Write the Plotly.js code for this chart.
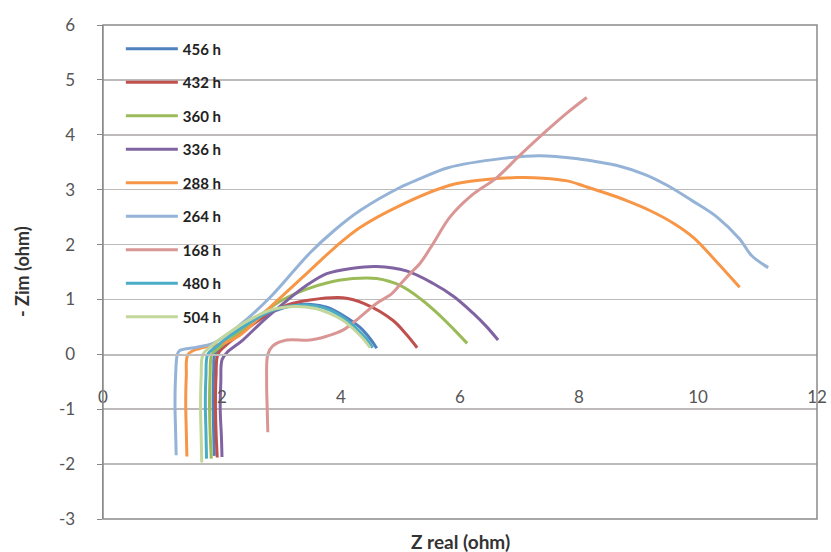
<!DOCTYPE html>
<html>
<head>
<meta charset="utf-8">
<script src="https://cdn.plot.ly/plotly-3.0.1.min.js"></script>
<style>html,body{margin:0;padding:0;background:#fff;}#chart{width:831px;height:552px;}</style>
</head>
<body>
<div id="chart"></div>
<script>
// Series labels (legend order)
const seriesNames = ["456 h", "432 h", "360 h", "336 h", "288 h", "264 h", "168 h", "480 h", "504 h"];

// Z real (ohm) / -Zim (ohm) values per series
const zr456 = [1.87, 1.86, 1.85, 1.86, 1.88, 1.98, 2.2, 2.5, 2.85, 3.2, 3.5, 3.76, 4.05, 4.32, 4.5, 4.6];
const zi456 = [-1.85, -1.4, -0.8, -0.3, 0.0, 0.12, 0.3, 0.55, 0.78, 0.89, 0.91, 0.86, 0.7, 0.49, 0.27, 0.11];

const zr432 = [1.92, 1.9, 1.89, 1.9, 1.93, 2.05, 2.4, 2.8, 3.1, 3.48, 4.03, 4.4, 4.87, 5.1, 5.28];
const zi432 = [-1.88, -1.4, -0.9, -0.4, 0.0, 0.15, 0.45, 0.75, 0.9, 0.99, 1.03, 0.92, 0.62, 0.36, 0.12];

const zr360 = [1.82, 1.8, 1.79, 1.8, 1.83, 1.95, 2.2, 2.6, 3.0, 3.4, 3.76, 4.2, 4.6, 5.0, 5.35, 5.65, 5.9, 6.12];
const zi360 = [-1.9, -1.4, -0.9, -0.4, 0.0, 0.12, 0.33, 0.68, 0.98, 1.18, 1.3, 1.38, 1.38, 1.25, 1.0, 0.72, 0.45, 0.2];

const zr336 = [2.0, 1.99, 1.97, 1.98, 2.0, 2.08, 2.35, 2.7, 3.09, 3.4, 3.76, 4.2, 4.6, 5.1, 5.55, 5.9, 6.22, 6.45, 6.64];
const zi336 = [-1.87, -1.5, -1.0, -0.5, -0.1, 0.03, 0.26, 0.62, 0.98, 1.24, 1.47, 1.57, 1.6, 1.52, 1.29, 1.05, 0.75, 0.5, 0.26];

const zr288 = [1.41, 1.4, 1.39, 1.4, 1.43, 1.63, 1.95, 2.25, 2.81, 3.48, 3.9, 4.32, 4.99, 5.83, 6.4, 6.96, 7.4, 7.8, 8.1, 8.47, 8.8, 9.19, 9.6, 9.92, 10.3, 10.7];
const zi288 = [-1.86, -1.4, -0.9, -0.4, 0.0, 0.11, 0.18, 0.31, 0.86, 1.53, 1.95, 2.31, 2.71, 3.08, 3.18, 3.22, 3.21, 3.16, 3.06, 2.93, 2.8, 2.62, 2.38, 2.13, 1.7, 1.22];

const zr264 = [1.23, 1.22, 1.21, 1.22, 1.25, 1.29, 1.58, 1.85, 2.25, 2.81, 3.48, 3.9, 4.32, 4.99, 5.33, 5.8, 6.72, 7.34, 8.0, 8.35, 8.64, 9.1, 9.48, 9.9, 10.32, 10.7, 10.9, 11.18];
const zi264 = [-1.84, -1.4, -0.9, -0.4, 0.0, 0.07, 0.13, 0.2, 0.49, 1.04, 1.85, 2.27, 2.62, 3.04, 3.2, 3.4, 3.57, 3.62, 3.56, 3.5, 3.44, 3.28, 3.08, 2.8, 2.5, 2.1, 1.8, 1.58];

const zr168 = [2.77, 2.76, 2.75, 2.77, 2.85, 3.09, 3.48, 3.76, 4.03, 4.3, 4.6, 4.85, 5.0, 5.16, 5.33, 5.55, 5.83, 6.2, 6.62, 7.0, 7.46, 7.8, 8.13];
const zi168 = [-1.42, -1.0, -0.5, 0.0, 0.15, 0.26, 0.26, 0.33, 0.44, 0.66, 0.93, 1.1, 1.28, 1.47, 1.66, 2.02, 2.5, 2.9, 3.22, 3.62, 4.08, 4.4, 4.68];

const zr480 = [1.74, 1.73, 1.72, 1.73, 1.76, 1.88, 2.15, 2.5, 2.85, 3.15, 3.4, 3.7, 4.0, 4.25, 4.43, 4.53];
const zi480 = [-1.9, -1.4, -0.9, -0.4, 0.0, 0.12, 0.35, 0.6, 0.8, 0.88, 0.9, 0.85, 0.7, 0.48, 0.28, 0.12];

const zr504 = [1.66, 1.65, 1.64, 1.65, 1.68, 1.8, 2.1, 2.45, 2.8, 3.2, 3.55, 3.8, 4.03, 4.25, 4.4, 4.49];
const zi504 = [-1.97, -1.5, -1.0, -0.4, 0.0, 0.13, 0.38, 0.62, 0.8, 0.87, 0.84, 0.75, 0.62, 0.42, 0.25, 0.12];

const xTicks = [0, 2, 4, 6, 8, 10, 12];
const yTicks = [-3, -2, -1, 0, 1, 2, 3, 4, 5, 6];

const xs = [zr456, zr432, zr360, zr336, zr288, zr264, zr168, zr480, zr504];
const ys = [zi456, zi432, zi360, zi336, zi288, zi264, zi168, zi480, zi504];
const colors = ["#4F81BD", "#C0504D", "#9BBB59", "#8064A2", "#F79646", "#95B3D7", "#D99694", "#4BACC6", "#C3D69B"];

const traces = seriesNames.map((n, i) => ({
  type: "scatter", mode: "lines", name: n, legendgroup: "g" + i,
  x: xs[i], y: ys[i],
  line: {color: colors[i], width: 3, shape: "spline", smoothing: 1}
}));

const font = "Lato, 'Open Sans', sans-serif";
const layout = {
  width: 831, height: 552,
  margin: {l: 103, r: 14, t: 25, b: 33},
  paper_bgcolor: "#ffffff", plot_bgcolor: "#ffffff",
  showlegend: true,
  legend: {
    x: 0.025, y: 0.985, xanchor: "left", yanchor: "top",
    bgcolor: "rgba(0,0,0,0)", traceorder: "grouped", tracegroupgap: 11,
    itemwidth: 52,
    font: {family: font, size: 15, color: "#222", weight: "bold"}
  },
  xaxis: {
    range: [0, 12], tickvals: xTicks, ticktext: xTicks.map(String),
    anchor: "free", position: 1/3,
    showgrid: false, zeroline: false, showline: true, linecolor: "#BDBDBD", linewidth: 1.5,
    ticks: "", ticklabelstandoff: 27,
    tickfont: {family: font, size: 17, color: "#555"}
  },
  yaxis: {
    range: [-3, 6], tickvals: yTicks, ticktext: yTicks.map(String),
    showgrid: true, gridcolor: "#BFBABA", gridwidth: 1.5,
    zeroline: false, showline: true, linecolor: "#888", linewidth: 1.5,
    ticks: "outside", ticklen: 5, tickcolor: "#888", ticklabelstandoff: 18,
    tickfont: {family: font, size: 17, color: "#555"}
  },
  shapes: [
    {type: "rect", xref: "paper", yref: "paper", x0: 0, x1: 1, y0: 0, y1: 1,
     line: {color: "#8A8A8A", width: 1.5}, fillcolor: "rgba(0,0,0,0)", layer: "above"}
  ],
  annotations: [
    {text: "Z real (ohm)", xref: "paper", yref: "paper", x: 0.5, y: 0, yshift: -22,
     showarrow: false, xanchor: "center", yanchor: "middle",
     font: {family: font, size: 19, color: "#333", weight: "bold"}},
    {text: "- Zim (ohm)", xref: "paper", yref: "paper", x: 0, xshift: -81, y: 0.5,
     showarrow: false, textangle: -90, xanchor: "center", yanchor: "middle",
     font: {family: font, size: 18, color: "#333", weight: "bold"}}
  ]
};

Plotly.newPlot("chart", traces, layout, {displayModeBar: false, staticPlot: true});
</script>
</body>
</html>
